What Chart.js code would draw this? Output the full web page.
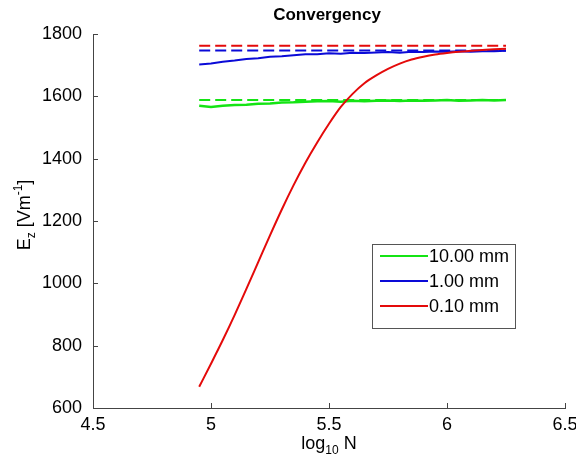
<!DOCTYPE html>
<html>
<head>
<meta charset="utf-8">
<script src="https://cdn.jsdelivr.net/npm/chart.js@4/dist/chart.umd.min.js"></script>
<style>
  html, body { margin: 0; padding: 0; background: #fff; }
  #wrap { width: 576px; height: 463px; position: relative; }
</style>
</head>
<body>
<div id="wrap"><canvas id="c" width="576" height="463"></canvas></div>
<script>
// ---- data ----
const xValues = [4.95, 5.00, 5.05, 5.10, 5.15, 5.20, 5.25, 5.30, 5.35, 5.40, 5.45, 5.50, 5.55,
                 5.60, 5.65, 5.70, 5.75, 5.80, 5.85, 5.90, 5.95, 6.00, 6.05, 6.10, 6.15, 6.20, 6.25];
const green10mm = [1570, 1566, 1570, 1572, 1573, 1576, 1577, 1580, 1581, 1583, 1584, 1585, 1583,
                   1586, 1584, 1586, 1587, 1585, 1587, 1586, 1587, 1588, 1586, 1587, 1588, 1587, 1588];
const blue1mm   = [1702, 1705, 1711, 1715, 1720, 1722, 1727, 1729, 1732, 1735, 1735, 1738, 1737,
                   1740, 1739, 1741, 1742, 1740, 1743, 1742, 1744, 1743, 1745, 1743, 1745, 1745, 1746];
const red01mm   = [668, 742, 818, 898, 982, 1068, 1154, 1237, 1315, 1387, 1452, 1512, 1566,
                   1608, 1642, 1667, 1688, 1705, 1718, 1727, 1734, 1739, 1743, 1746, 1749, 1751, 1753];
const refX = [4.95, 6.25];
const greenRef = [1588, 1588];
const blueRef  = [1747, 1747];
const redRef   = [1762, 1762];
const seriesLabels = ['10.00 mm', '1.00 mm', '0.10 mm'];
const xTickValues = [4.5, 5, 5.5, 6, 6.5];
const xTickLabels = ['4.5', '5', '5.5', '6', '6.5'];
const yTickLabels = ['600', '800', '1000', '1200', '1400', '1600', '1800'];
const chartTitle = 'Convergency';

const GREEN = 'rgb(20,228,20)';
const BLUE = 'rgb(10,10,215)';
const RED = 'rgb(228,10,10)';
const FONT = '"Liberation Sans", Arial, Helvetica, sans-serif';

function pts(xs, ys) { return xs.map((x, i) => ({ x: x, y: ys[i] })); }

const datasets = [
  { label: seriesLabels[0], data: pts(xValues, green10mm), borderColor: GREEN, borderWidth: 2.5, order: 2, legend: true },
  { label: seriesLabels[1], data: pts(xValues, blue1mm), borderColor: BLUE, borderWidth: 2, order: 1, legend: true },
  { label: seriesLabels[2], data: pts(xValues, red01mm), borderColor: RED, borderWidth: 2, order: 0, legend: true, cubicInterpolationMode: 'monotone' },
  { label: 'ref10', data: pts(refX, greenRef), borderColor: GREEN, borderWidth: 2, borderDash: [11, 5], order: 5 },
  { label: 'ref1', data: pts(refX, blueRef), borderColor: BLUE, borderWidth: 2, borderDash: [11, 5], order: 4 },
  { label: 'ref01', data: pts(refX, redRef), borderColor: RED, borderWidth: 2, borderDash: [11, 5], order: 3 }
].map(d => Object.assign({ showLine: true, pointRadius: 0, fill: false, tension: 0 }, d));

const decorPlugin = {
  id: 'decor',
  afterDraw(chart) {
    const ctx = chart.ctx;
    const xs = chart.scales.x, ys = chart.scales.y;
    const area = chart.chartArea;
    ctx.save();
    // inward tick marks
    ctx.strokeStyle = '#444';
    ctx.lineWidth = 1;
    ctx.beginPath();
    xs.ticks.forEach(t => {
      const px = Math.round(xs.getPixelForValue(t.value)) + 0.5;
      ctx.moveTo(px, area.bottom); ctx.lineTo(px, area.bottom - 5);
    });
    ys.ticks.forEach(t => {
      const py = Math.round(ys.getPixelForValue(t.value)) + 0.5;
      ctx.moveTo(area.left, py); ctx.lineTo(area.left + 5, py);
    });
    ctx.stroke();

    ctx.fillStyle = '#000';
    // title
    ctx.font = 'bold 17px ' + FONT;
    ctx.textAlign = 'center';
    ctx.textBaseline = 'middle';
    ctx.fillText(chartTitle, (area.left + area.right) / 2 - 2, 15);

    // x axis title: log10 N
    const big = '18px ' + FONT, small = '12px ' + FONT;
    ctx.textBaseline = 'alphabetic';
    ctx.textAlign = 'left';
    ctx.font = big; const w1 = ctx.measureText('log').width;
    ctx.font = small; const w2 = ctx.measureText('10').width;
    ctx.font = big; const w3 = ctx.measureText(' N').width;
    let x0 = (area.left + area.right) / 2 - (w1 + w2 + w3) / 2;
    const by = 449;
    ctx.font = big; ctx.fillText('log', x0, by);
    ctx.font = small; ctx.fillText('10', x0 + w1, by + 5);
    ctx.font = big; ctx.fillText(' N', x0 + w1 + w2, by);

    // y axis title: E_z [Vm^-1]
    ctx.translate(30, (area.top + area.bottom) / 2 - 6);
    ctx.rotate(-Math.PI / 2);
    const parts = [['E', big, 0], ['z', small, 5], [' [Vm', big, 0], ['-1', small, -8], [']', big, 0]];
    let tw = 0;
    parts.forEach(p => { ctx.font = p[1]; tw += ctx.measureText(p[0]).width; });
    let cx = -tw / 2;
    parts.forEach(p => { ctx.font = p[1]; ctx.fillText(p[0], cx, p[2]); cx += ctx.measureText(p[0]).width; });
    ctx.restore();

    // legend box
    ctx.save();
    const lx = 372, ly = 244, lw = 143, lh = 84;
    ctx.fillStyle = '#fff';
    ctx.fillRect(lx, ly, lw, lh);
    ctx.strokeStyle = '#555';
    ctx.lineWidth = 1;
    ctx.strokeRect(lx + 0.5, ly + 0.5, lw, lh);
    ctx.font = big;
    ctx.textAlign = 'left';
    ctx.textBaseline = 'middle';
    const rows = chart.data.datasets.filter(d => d.legend);
    rows.forEach((d, i) => {
      const ry = ly + 12 + i * 25;
      ctx.strokeStyle = d.borderColor;
      ctx.lineWidth = 2;
      ctx.beginPath(); ctx.moveTo(lx + 8, ry); ctx.lineTo(lx + 56, ry); ctx.stroke();
      ctx.fillStyle = '#000';
      ctx.fillText(d.label, lx + 57, ry + 1);
    });
    ctx.restore();
  }
};

new Chart(document.getElementById('c'), {
  type: 'scatter',
  data: { datasets: datasets },
  options: {
    responsive: false,
    animation: false,
    events: [],
    layout: { padding: { left: 0, right: 11, top: 34, bottom: 0 } },
    plugins: { legend: { display: false }, tooltip: { enabled: false }, title: { display: false } },
    scales: {
      x: {
        type: 'linear', min: 4.5, max: 6.5,
        afterBuildTicks(scale) { scale.ticks = xTickValues.map(v => ({ value: v })); },
        afterFit(scale) { scale.height = 55; scale.paddingLeft = 0; scale.paddingRight = 0; },
        ticks: {
          color: '#000', padding: 6, maxRotation: 0, autoSkip: false,
          font: { family: FONT, size: 18 },
          callback: (v) => { const i = xTickValues.indexOf(v); return i >= 0 ? xTickLabels[i] : ''; }
        },
        grid: { display: false, drawTicks: false },
        border: { display: true, color: '#444', width: 1 }
      },
      y: {
        type: 'linear', min: 600, max: 1800,
        ticks: {
          stepSize: 200, color: '#000', padding: 11,
          font: { family: FONT, size: 18 },
          callback: (v) => { const i = (v - 600) / 200; return yTickLabels[i] !== undefined ? yTickLabels[i] : ''; }
        },
        afterFit(scale) { scale.width = 93; scale.paddingTop = 0; scale.paddingBottom = 0; },
        grid: { display: false, drawTicks: false },
        border: { display: true, color: '#444', width: 1 }
      }
    }
  },
  plugins: [decorPlugin]
});
</script>
</body>
</html>
